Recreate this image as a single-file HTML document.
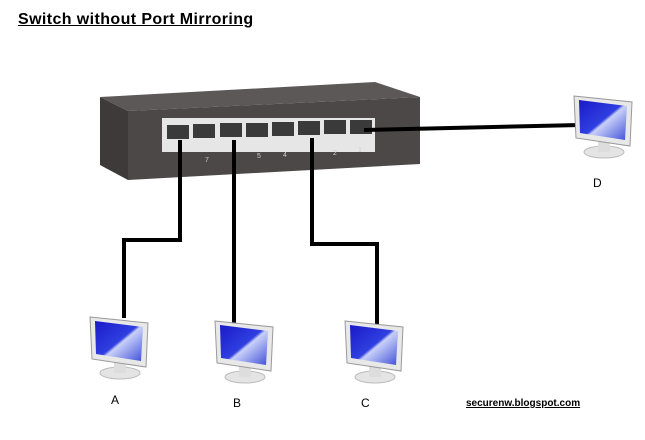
<!DOCTYPE html>
<html><head><style>
body{margin:0;background:#fff;width:645px;height:440px;overflow:hidden;position:relative;font-family:"Liberation Sans",sans-serif}
.t{position:absolute;left:18px;top:11px;font-size:16px;font-weight:bold;text-decoration:underline;letter-spacing:0.4px}
.l{position:absolute;font-size:12px}
.s{position:absolute;left:466px;top:398px;font-size:10px;font-weight:bold;text-decoration:underline}
</style></head><body>
<svg width="645" height="440" style="position:absolute;left:0;top:0">
<defs>
<linearGradient id="scr" x1="0" y1="0" x2="1" y2="1"><stop offset="0" stop-color="#1a1ac8"/><stop offset="0.5" stop-color="#2f3fe0"/><stop offset="0.55" stop-color="#c8d0f8"/><stop offset="1" stop-color="#4050d8"/></linearGradient>
<g id="mon">
<ellipse cx="30" cy="56" rx="20" ry="6" fill="#e4e4e4" stroke="#bbb"/>
<rect x="24" y="44" width="12" height="12" fill="#ddd"/>
<polygon points="0,0 58,6 56,50 2,42" fill="#e8e8e8" stroke="#999"/>
<polygon points="5,4 53,10 51,44 6,37" fill="url(#scr)"/>
</g>
</defs>
<polygon points="100,97 375,82 420,97 128,111" fill="#5c5858"/>
<polygon points="100,97 128,111 128,180 100,165" fill="#3e3a3a"/>
<polygon points="128,111 420,97 420,164 128,180" fill="#4c4848"/>
<rect x="162" y="118" width="213" height="34" fill="#e6e6e6"/>
<g fill="#3a3a3a">
<rect x="167" y="125" width="22" height="14"/><rect x="193" y="124" width="22" height="14"/>
<rect x="220" y="123" width="22" height="14"/><rect x="246" y="123" width="22" height="14"/>
<rect x="272" y="122" width="22" height="14"/><rect x="298" y="121" width="22" height="14"/>
<rect x="324" y="120" width="22" height="14"/><rect x="350" y="120" width="22" height="14"/>
</g>
<g fill="#ccc" font-size="7"><text x="205" y="162">7</text><text x="257" y="158">5</text><text x="283" y="157">4</text><text x="333" y="155">2</text><text x="358" y="152">1</text></g>
<g fill="none" stroke="#000" stroke-width="4">
<polyline points="180,140 180,240 124,240 124,318"/>
<polyline points="234,140 234,325"/>
<polyline points="312,138 312,244 377,244 377,330"/>
<polyline points="364,130 580,125"/>
</g>
<use href="#mon" x="90" y="317"/>
<use href="#mon" x="215" y="321"/>
<use href="#mon" x="345" y="321"/>
<use href="#mon" x="574" y="96"/>
</svg>
<div class="t">Switch without Port Mirroring</div>
<div class="l" style="left:111px;top:393px">A</div>
<div class="l" style="left:233px;top:396px">B</div>
<div class="l" style="left:361px;top:396px">C</div>
<div class="l" style="left:593px;top:176px">D</div>
<div class="s">securenw.blogspot.com</div>
</body></html>
